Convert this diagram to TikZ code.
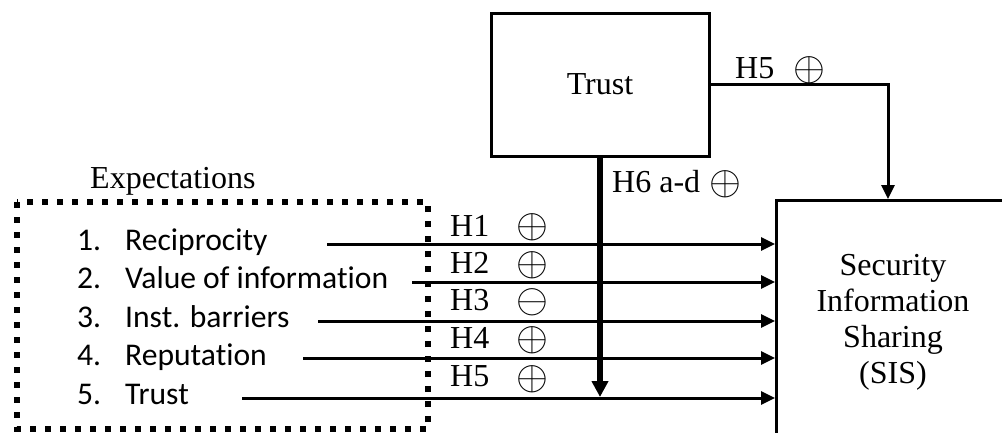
\documentclass[tikz,border=0pt]{standalone}
\usepackage{fontspec}
\usepackage{graphicx}
\setmainfont{Liberation Serif}
\newfontfamily\calib[Ligatures={NoCommon}]{Carlito}
\usetikzlibrary{arrows.meta}
\newcommand{\op}{{\fontsize{10}{12}\selectfont\scalebox{4.1}{$\oplus$}}}
\newcommand{\om}{{\fontsize{10}{12}\selectfont\scalebox{4.1}{$\ominus$}}}
\tikzset{
  serif/.style={font=\fontsize{32}{36}\selectfont, inner sep=0pt},
  item/.style={font=\calib\fontsize{31.6}{36}\selectfont, inner sep=0pt, anchor=base west},
  lbl/.style={font=\fontsize{32}{36}\selectfont, inner sep=0pt, anchor=base west},
  sym/.style={inner sep=0pt},
  arr/.style={line width=3pt, -{Triangle[length=14pt,width=13pt]}},
  boxline/.style={draw, line width=3pt},
}
\begin{document}
\begin{tikzpicture}[x=1pt,y=-1pt]
\useasboundingbox (0,0) rectangle (1002,432);
% dotted expectations box
\draw[line width=6pt, dash pattern=on 6pt off 9pt] (17,202) rectangle (428,429);
\node[lbl] (exp) at (90,188) {Expectations};
% items
\node[item] (i1) at (77,250) {\makebox[48pt][l]{1.}Reciprocity};
\node[item] (i2) at (77,288) {\makebox[48pt][l]{2.}Value of information};
\node[item] (i3) at (77,327) {\makebox[48pt][l]{3.}Inst. barriers};
\node[item] (i4) at (77,365) {\makebox[48pt][l]{4.}Reputation};
\node[item] (i5) at (77,404) {\makebox[48pt][l]{5.}Trust};
% trust box
\node[boxline, minimum width=218pt, minimum height=143pt, serif] (trust) at (600,84.5) {Trust};
% SIS box (cut by the picture edge)
\node[boxline, minimum width=250pt, minimum height=260pt, anchor=north west, inner sep=0pt] (sis) at (775,199) {};
\node[serif, align=center] (sistext) at (893,322) {Security\\Information\\Sharing\\(SIS)};
% line starts
\coordinate (s1) at (327,244);
\coordinate (s2) at (412,282);
\coordinate (s3) at (318,321);
\coordinate (s4) at (303,358);
\coordinate (s5) at (242,398);
\draw[arr] (s1) -- (s1 -| sis.west);
\draw[arr] (s2) -- (s2 -| sis.west);
\draw[arr] (s3) -- (s3 -| sis.west);
\draw[arr] (s4) -- (s4 -| sis.west);
\draw[arr] (s5) -- (s5 -| sis.west);
% H6 vertical
\coordinate (h6end) at (600,397);
\draw[line width=5.5pt, -{Triangle[length=16pt,width=16pt]}] (trust.south) -- (h6end);
% H5 top
\coordinate (sisin) at (888,199);
\draw[arr] (trust.east) -| (sisin);
% labels
\node[lbl] (l1) at (450,236) {H1};
\node[lbl] (l2) at (450,273) {H2};
\node[lbl] (l3) at (450,310) {H3};
\node[lbl] (l4) at (450,348) {H4};
\node[lbl] (l5) at (450,386) {H5};
\node[sym] (p1) at (532,227) {\op};
\node[sym] (p2) at (532,265) {\op};
\node[sym] (p3) at (532,302) {\om};
\node[sym] (p4) at (532,340) {\op};
\node[sym] (p5) at (532,379) {\op};
\node[lbl] (l5t) at (735,78) {H5};
\node[sym] (p5t) at (809,70) {\op};
\node[lbl] (l6) at (612,192) {H6 a-d};
\node[sym] (p6) at (725,184) {\op};
\end{tikzpicture}
\end{document}
